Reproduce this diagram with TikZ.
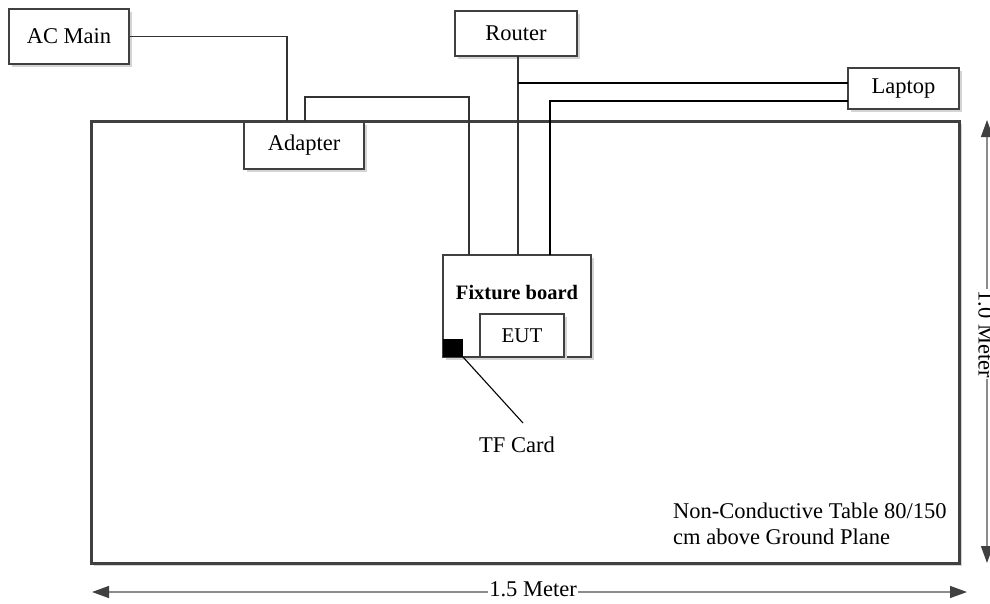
\documentclass[tikz,border=0pt]{standalone}
\usepackage{fontspec}
\setmainfont{Liberation Serif}
\usetikzlibrary{arrows.meta,shadows}
\definecolor{boxgray}{HTML}{404040}
\definecolor{wiregray}{HTML}{333333}
\definecolor{dimgray}{HTML}{8C8C8C}
\definecolor{shadowgray}{HTML}{D4D4D4}
\begin{document}
\begin{tikzpicture}[x=1pt,y=-1pt,
  shad/.style={drop shadow={shadow xshift=2.5pt,shadow yshift=-2.5pt,fill=shadowgray,opacity=1}},
  box/.style={draw=boxgray,line width=2.2pt,fill=white,inner sep=0pt,shad,
    font=\fontsize{22.5}{27}\selectfont},
  tablebox/.style={draw=boxgray,line width=3pt,fill=white,inner sep=0pt,shad},
  wire/.style={draw=wiregray,line width=1.4pt},
  thinwire/.style={draw=black,line width=1.1pt},
  lbl/.style={inner sep=0pt,font=\fontsize{22.5}{27}\selectfont},
  dim/.style={draw=dimgray,line width=1.3pt,
    {Triangle[length=17pt,width=12pt,color=boxgray]}-{Triangle[length=17pt,width=12pt,color=boxgray]}},
  dimlabel/.style={fill=white,inner sep=1.5pt,font=\fontsize{22.5}{27}\selectfont}
]
\useasboundingbox (0,0) rectangle (990,603);

% table
\node[tablebox,minimum width=868pt,minimum height=442pt] (table) at (525,342) {};

% boxes
\node[box,minimum width=120pt,minimum height=55pt] (acmain) at (69,36.5) {AC Main};
\node[box,minimum width=120pt,minimum height=47pt] (adapter) at (304,145.5) {Adapter};
\node[box,minimum width=122pt,minimum height=45pt] (router) at (516,33.5) {Router};
\node[box,minimum width=111pt,minimum height=41pt] (laptop) at (903.5,88.5) {Laptop};
\node[box,minimum width=148pt,minimum height=102pt] (fixture) at (517,306) {};
\node[lbl,font=\fontsize{20.5}{25}\selectfont\bfseries] (fixlabel) at (517,293) {Fixture board};
\node[box,minimum width=84pt,minimum height=43pt,font=\fontsize{21}{25}\selectfont] (eut) at (522,335.5) {EUT};
\node[draw=black,fill=black,line width=0.8pt,minimum width=19pt,minimum height=17pt,inner sep=0pt] (tf) at (453,348) {};
\node[lbl] (tflabel) at (517,445) {TF Card};

% connection points
\coordinate (acdrop) at (287,121);
\coordinate (adup) at (305,121);
\coordinate (adtop) at (305,97);
\coordinate (fxa) at (469,255);
\coordinate (rbot) at (518,56);
\coordinate (fxr) at (518,255);
\coordinate (rbranch) at (518,83);
\coordinate (lapa) at (848,83);
\coordinate (lapb) at (848,101);
\coordinate (fxl) at (550,255);
\coordinate (tfend) at (523,423);

% wires
\draw[wire] (acmain.east) -| (acdrop);
\draw[wire] (adup) -- (adtop) -| (fxa);
\draw[wire] (rbot) -- (fxr);
\draw[thinwire] (rbranch) -- (lapa);
\draw[thinwire] (lapb) -| (fxl);
\draw[thinwire] (tf.south east) -- (tfend);

% table label
\node[anchor=base west,align=left,inner sep=0pt,font=\fontsize{22.5}{26}\selectfont] (tablelabel) at (673,544) {Non-Conductive Table 80/150\\cm above Ground Plane};

% dimensions
\coordinate (hl) at (92,592);
\coordinate (hr) at (967,592);
\draw[dim] (hl) -- (hr);
\node[dimlabel] (wlab) at (533,589.5) {1.5 Meter};
\coordinate (vt) at (987,120);
\coordinate (vb) at (987,563);
\draw[dim] (vt) -- (vb);
\node[dimlabel,rotate=-90] (hlab) at (986,334) {1.0 Meter};
\end{tikzpicture}
\end{document}
